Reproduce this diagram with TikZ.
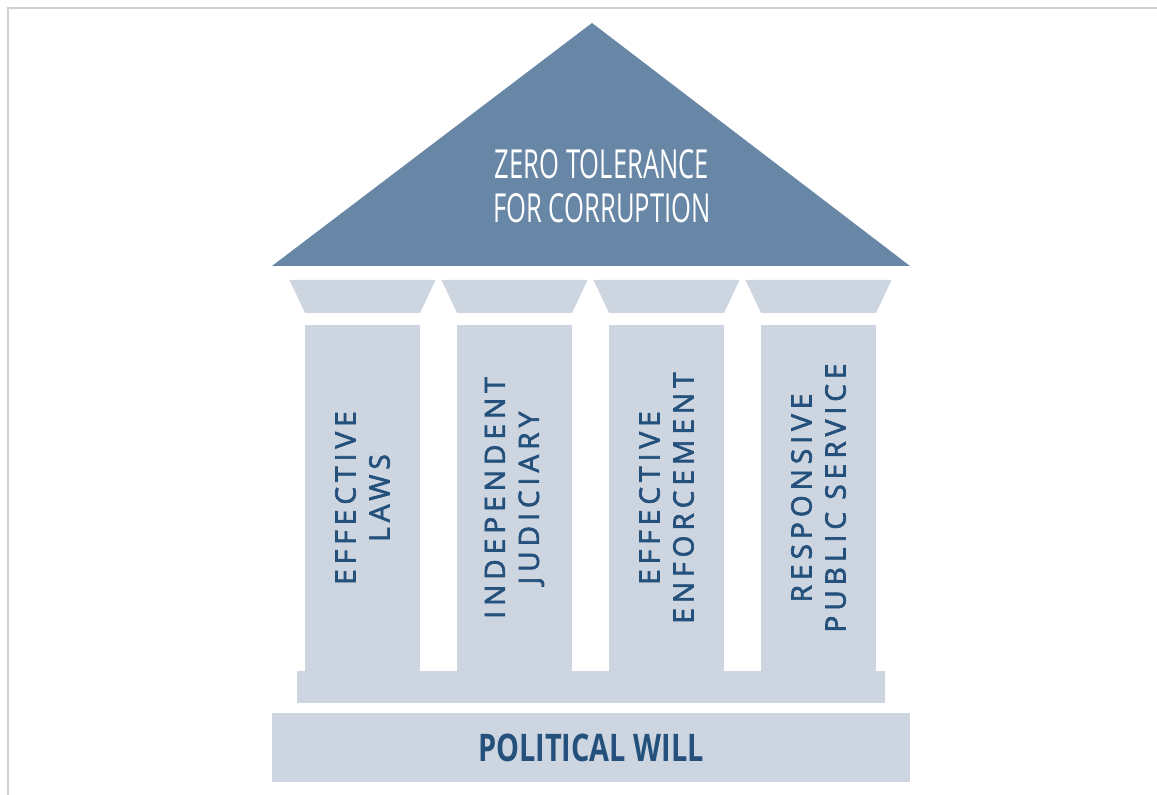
\documentclass[tikz,border=0pt]{standalone}
\usepackage{fontspec}
\usepackage{xcolor}
\usetikzlibrary{positioning}
\newfontfamily\pillarfont[LetterSpace=18, FakeBold=2.5]{Open Sans}
\newfontfamily\rooffont[FakeStretch=0.64]{Open Sans}
\newfontfamily\basefont[FakeStretch=0.76]{Open Sans}
\definecolor{roofblue}{HTML}{6886A6}
\definecolor{stoneblue}{HTML}{CDD5E0}
\definecolor{inkblue}{HTML}{24507C}
\tikzset{
    pillar/.style={
        fill=stoneblue,
        rotate=90,
        minimum width=173pt,
        minimum height=57.5pt,
        inner sep=0pt,
        align=center,
        text=inkblue,
        font=\pillarfont\fontsize{14}{17}\selectfont
    },
    capital/.style={
        fill=stoneblue
    }
}
\begin{document}
\begin{tikzpicture}[x=0.5pt, y=-0.5pt]
  \useasboundingbox (0,0) rectangle (1157,795);
  % Frame of the picture
  \draw[gray!35, line width=1pt] (8,795) -- (8,8) -- (1157,8);

  % Roof
  \fill[roofblue] (272,266) -- (592,23) -- (910,266) -- cycle;
  \node[text=white, align=center, font=\rooffont\fontsize{20}{22}\selectfont] (title) at (602,186)
    {ZERO TOLERANCE\\FOR CORRUPTION};

  % Capitals on top of the pillars
  \fill[capital] (289.5,280) -- (435.5,280) -- (420,313) -- (305,313) -- cycle;
  \fill[capital] (441.5,280) -- (587.5,280) -- (572,313) -- (457,313) -- cycle;
  \fill[capital] (593.5,280) -- (739.5,280) -- (724,313) -- (609,313) -- cycle;
  \fill[capital] (745.5,280) -- (891.5,280) -- (876,313) -- (761,313) -- cycle;

  % Pillars
  \node[pillar] (laws) at (362.5,498) {EFFECTIVE\\LAWS};
  \node[pillar] (judiciary) at (514.5,498) {INDEPENDENT\\JUDICIARY};
  \node[pillar] (enforcement) at (666.5,498) {EFFECTIVE\\ENFORCEMENT};
  \node[pillar] (service) at (818.5,498) {RESPONSIVE\\PUBLIC SERVICE};

  % Step and base
  \fill[stoneblue] (297,671) rectangle (885,703);
  \node[fill=stoneblue, minimum width=319pt, minimum height=34.5pt, inner sep=0pt,
        text=inkblue, font=\basefont\bfseries\fontsize{19}{22}\selectfont] (will) at (591,747.5)
    {POLITICAL WILL};
\end{tikzpicture}
\end{document}
